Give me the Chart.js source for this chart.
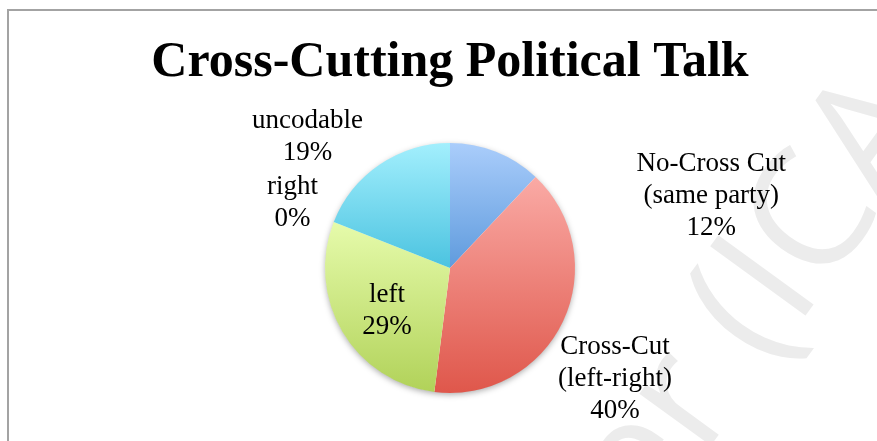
<!DOCTYPE html>
<html>
<head>
<meta charset="utf-8">
<script src="https://cdn.jsdelivr.net/npm/chart.js@4.4.0/dist/chart.umd.min.js"></script>
<style>
  html, body { margin: 0; padding: 0; background: #fff; overflow: hidden; }
  #frame { position: absolute; left: 7px; top: 9px; width: 1000px; height: 1000px; border: 2px solid #a3a3a3; }
  #wrap { position: absolute; left: 0; top: 0; width: 877px; height: 441px; }
</style>
</head>
<body>
<div id="frame"></div>
<div id="wrap"><canvas id="pie" width="877" height="441"></canvas></div>
<script>
// categories (multi-line labels) and their shares in percent, clockwise from 12 o'clock
const categories = [
  ['No-Cross Cut', '(same party)'],
  ['Cross-Cut', '(left-right)'],
  ['left'],
  ['right'],
  ['uncodable']
];
const shares = [12, 40, 29, 0, 19];

// slice gradient colours, top -> bottom
const sliceTop = ['#aacdfb', '#faaaa5', '#e6fbab', '#e6fbab', '#a3effd'];
const sliceBottom = ['#5f9bdd', '#df574b', '#b1d259', '#b1d259', '#4bc3e0'];

// label centres, in pie radii from the pie centre
const labelSpot = [[2.09, -0.576], [1.32, 0.884], [-0.504, 0.344], [-1.26, -0.52], [-1.14, -1.052]];
const lineGap = 32;

const total = shares.reduce((a, b) => a + b, 0);

function sliceFill(ctx) {
  const i = ctx.dataIndex;
  const chart = ctx.chart;
  const area = chart.chartArea;
  if (!area) return sliceBottom[i];
  const cx = (area.left + area.right) / 2;
  const cy = (area.top + area.bottom) / 2;
  const r = Math.min(area.right - area.left, area.bottom - area.top) / 2;
  let before = 0;
  for (let k = 0; k < i; k++) before += shares[k];
  const a0 = before / total * 2 * Math.PI;
  const a1 = (before + shares[i]) / total * 2 * Math.PI;
  const ys = [cy, cy - r * Math.cos(a0), cy - r * Math.cos(a1)];
  let top = Math.min(...ys), bottom = Math.max(...ys);
  if (a0 < 1e-9 || a1 > 2 * Math.PI - 1e-9) top = cy - r;
  if (a0 <= Math.PI && a1 >= Math.PI) bottom = cy + r;
  if (bottom - top < 1) return sliceBottom[i];
  const g = chart.ctx.createLinearGradient(0, top, 0, bottom);
  g.addColorStop(0, sliceTop[i]);
  g.addColorStop(1, sliceBottom[i]);
  return g;
}

// faint rotated watermark behind everything
const watermark = {
  id: 'watermark',
  beforeDraw(chart) {
    const c = chart.ctx;
    c.save();
    c.translate(648, 532);
    c.rotate(-54 * Math.PI / 180);
    c.font = '165px "Open Sans"';
    c.fillStyle = '#ececec';
    c.textBaseline = 'alphabetic';
    c.fillText('er (ICA', 0, 0);
    c.restore();
  }
};

// soft shadow under the pie
const pieShadow = {
  id: 'pieShadow',
  beforeDatasetsDraw(chart) {
    const arc = chart.getDatasetMeta(0).data[0];
    if (!arc) return;
    const c = chart.ctx;
    c.save();
    c.shadowColor = 'rgba(0,0,0,0.35)';
    c.shadowBlur = 6;
    c.shadowOffsetY = 2;
    c.fillStyle = '#fff';
    c.beginPath();
    c.arc(arc.x, arc.y, arc.outerRadius - 0.5, 0, 2 * Math.PI);
    c.fill();
    c.restore();
  }
};

// category name + percentage for each slice
const sliceLabels = {
  id: 'sliceLabels',
  afterDatasetsDraw(chart) {
    const arc = chart.getDatasetMeta(0).data[0];
    if (!arc) return;
    const { x, y, outerRadius: r } = arc;
    const c = chart.ctx;
    c.save();
    c.font = '27px "Liberation Serif"';
    c.fillStyle = '#000';
    c.textAlign = 'center';
    c.textBaseline = 'middle';
    categories.forEach((lines, i) => {
      const rows = [...lines, shares[i] + '%'];
      const lx = x + labelSpot[i][0] * r;
      const ly = y + labelSpot[i][1] * r;
      rows.forEach((t, k) => c.fillText(t, lx, ly + (k - (rows.length - 1) / 2) * lineGap));
    });
    c.restore();
  }
};

new Chart(document.getElementById('pie'), {
  type: 'pie',
  data: {
    labels: categories,
    datasets: [{
      data: shares,
      backgroundColor: sliceFill,
      borderWidth: 0
    }]
  },
  options: {
    responsive: false,
    animation: false,
    events: [],
    layout: { padding: { left: 23, right: 0, top: 0, bottom: 48 } },
    plugins: {
      legend: { display: false },
      tooltip: { enabled: false },
      title: {
        display: true,
        text: 'Cross-Cutting Political Talk',
        color: '#000',
        font: { family: "'Liberation Serif', serif", size: 50, weight: 'bold', lineHeight: 1.2 },
        padding: { top: 33, bottom: 50 }
      }
    }
  },
  plugins: [watermark, pieShadow, sliceLabels]
});
</script>
</body>
</html>
